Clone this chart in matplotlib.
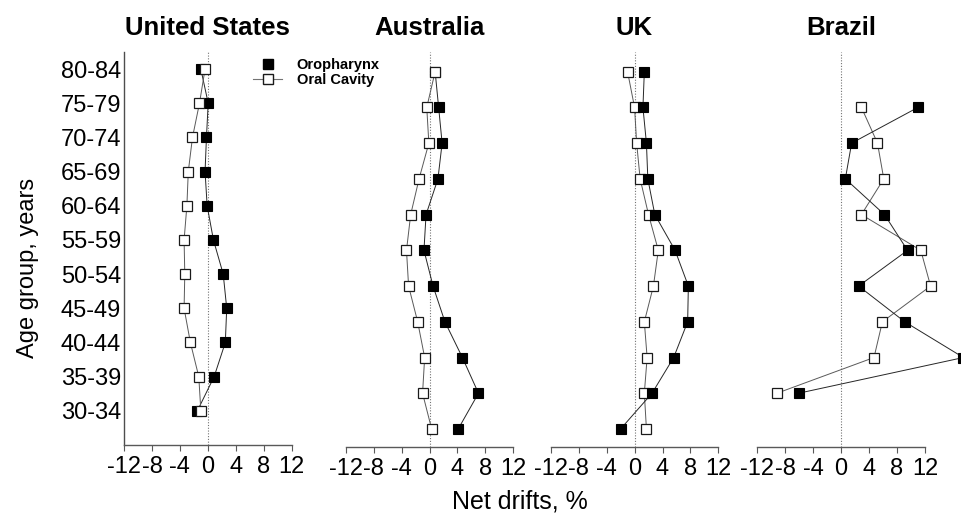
import numpy as np
import matplotlib
matplotlib.use("Agg")
import matplotlib.pyplot as plt
from matplotlib.lines import Line2D

plt.rcParams['font.family'] = ['Liberation Sans', 'DejaVu Sans']

# data, listed from the top row (80-84) down to the bottom row
ages = ["80-84", "75-79", "70-74", "65-69", "60-64", "55-59",
        "50-54", "45-49", "40-44", "35-39", "30-34"]
countries = ["United States", "Australia", "UK", "Brazil"]

us_oro = [-1.0, 0.05, -0.2, -0.4, -0.1, 0.8, 2.2, 2.7, 2.5, 0.9, -1.5]
us_oral = [-0.4, -1.2, -2.2, -2.8, -3.0, -3.4, -3.3, -3.4, -2.5, -1.3, -1.0]

au_oro = [0.8, 1.3, 1.8, 1.2, -0.5, -0.8, 0.5, 2.2, 4.7, 7.0, 4.1]
au_oral = [0.8, -0.4, -0.1, -1.5, -2.7, -3.3, -3.0, -1.7, -0.7, -1.0, 0.3]

uk_oro = [1.4, 1.2, 1.7, 1.9, 2.9, 5.8, 7.7, 7.6, 5.6, 2.5, -2.0]
uk_oral = [-1.0, 0.0, 0.3, 0.8, 2.0, 3.4, 2.7, 1.4, 1.8, 1.4, 1.7]

br_oro = [np.nan, 11.0, 1.5, 0.6, 6.2, 9.5, 2.5, 9.1, 17.5, -6.1, np.nan]
br_oral = [np.nan, 2.9, 5.2, 6.1, 2.9, 11.4, 12.8, 5.9, 4.7, -9.2, np.nan]

oro = [us_oro, au_oro, uk_oro, br_oro]
oral = [us_oral, au_oral, uk_oral, br_oral]

W, H = 962, 518
fig = plt.figure(figsize=(W / 100, H / 100), dpi=100)

# panel placement in pixels
lefts = [124, 345.7, 550.7, 757.3]
width = 167.7
rows = np.arange(len(ages), 0, -1)
# which series sits on top where markers overlap
oral_on_top = [True, True, False, False]

for i, name in enumerate(countries):
    top, bottom = (52, 445) if i == 0 else (52, 447)
    ax = fig.add_axes([lefts[i] / W, 1 - bottom / H, width / W, (bottom - top) / H])
    if i == 0:
        ax.set_ylim(0, 11.5)
    else:
        ax.set_ylim(0.496, 11.55)
    ax.set_xlim(-12, 12)
    ax.axvline(0, color='0.45', ls=(0, (1, 1.5)), lw=0.8, zorder=1)

    z_oro, z_oral = (3, 4) if oral_on_top[i] else (4, 3)
    ax.plot(oro[i], rows, color='0.15', lw=0.7, marker='s', ms=7,
            mfc='black', mec='black', mew=0.8, clip_on=False, zorder=z_oro)
    ax.plot(oral[i], rows, color='0.35', lw=0.7, marker='s', ms=6.8,
            mfc='white', mec='0.1', mew=0.9, clip_on=False, zorder=z_oral)

    ax.set_xticks([-12, -8, -4, 0, 4, 8, 12])
    ax.set_xticklabels(['-12', '-8', '-4', '0', '4', '8', '12'], fontsize=17)
    ax.tick_params(axis='x', length=4, width=0.8, color='0.35', pad=4)
    for s in ['top', 'right']:
        ax.spines[s].set_visible(False)
    ax.spines['bottom'].set_color('0.35')
    ax.spines['bottom'].set_linewidth(1.0)
    if i == 0:
        ax.set_yticks(rows)
        ax.set_yticklabels(ages, fontsize=17)
        ax.tick_params(axis='y', length=0, pad=2)
        ax.spines['left'].set_color('0.3')
        ax.spines['left'].set_linewidth(1.0)
    else:
        ax.spines['left'].set_visible(False)
        ax.set_yticks([])

    fig.text((lefts[i] + width / 2) / W, 1 - 27.7 / H, name, ha='center',
             va='center', fontsize=18.5, fontweight='bold')

handles = [
    Line2D([], [], ls='none', marker='s', ms=7, mfc='black', mec='black'),
    Line2D([], [], color='0.45', lw=0.8, marker='s', ms=6.8, mfc='white', mec='0.1'),
]
fig.legend(handles, ["Oropharynx", "Oral Cavity"], loc='upper left',
           bbox_to_anchor=(253 / W, 1 - 58 / H), frameon=False, borderpad=0,
           borderaxespad=0, handlelength=2.0, handletextpad=1.0, labelspacing=0.1,
           prop={'size': 10.5, 'weight': 'bold'})

fig.text(520 / W, 1 - 502 / H, "Net drifts, %", ha='center', va='center', fontsize=18)
fig.text(28 / W, 1 - 268 / H, "Age group, years", ha='center', va='center',
         rotation=90, fontsize=17)

fig.savefig("out.png", dpi=100)
